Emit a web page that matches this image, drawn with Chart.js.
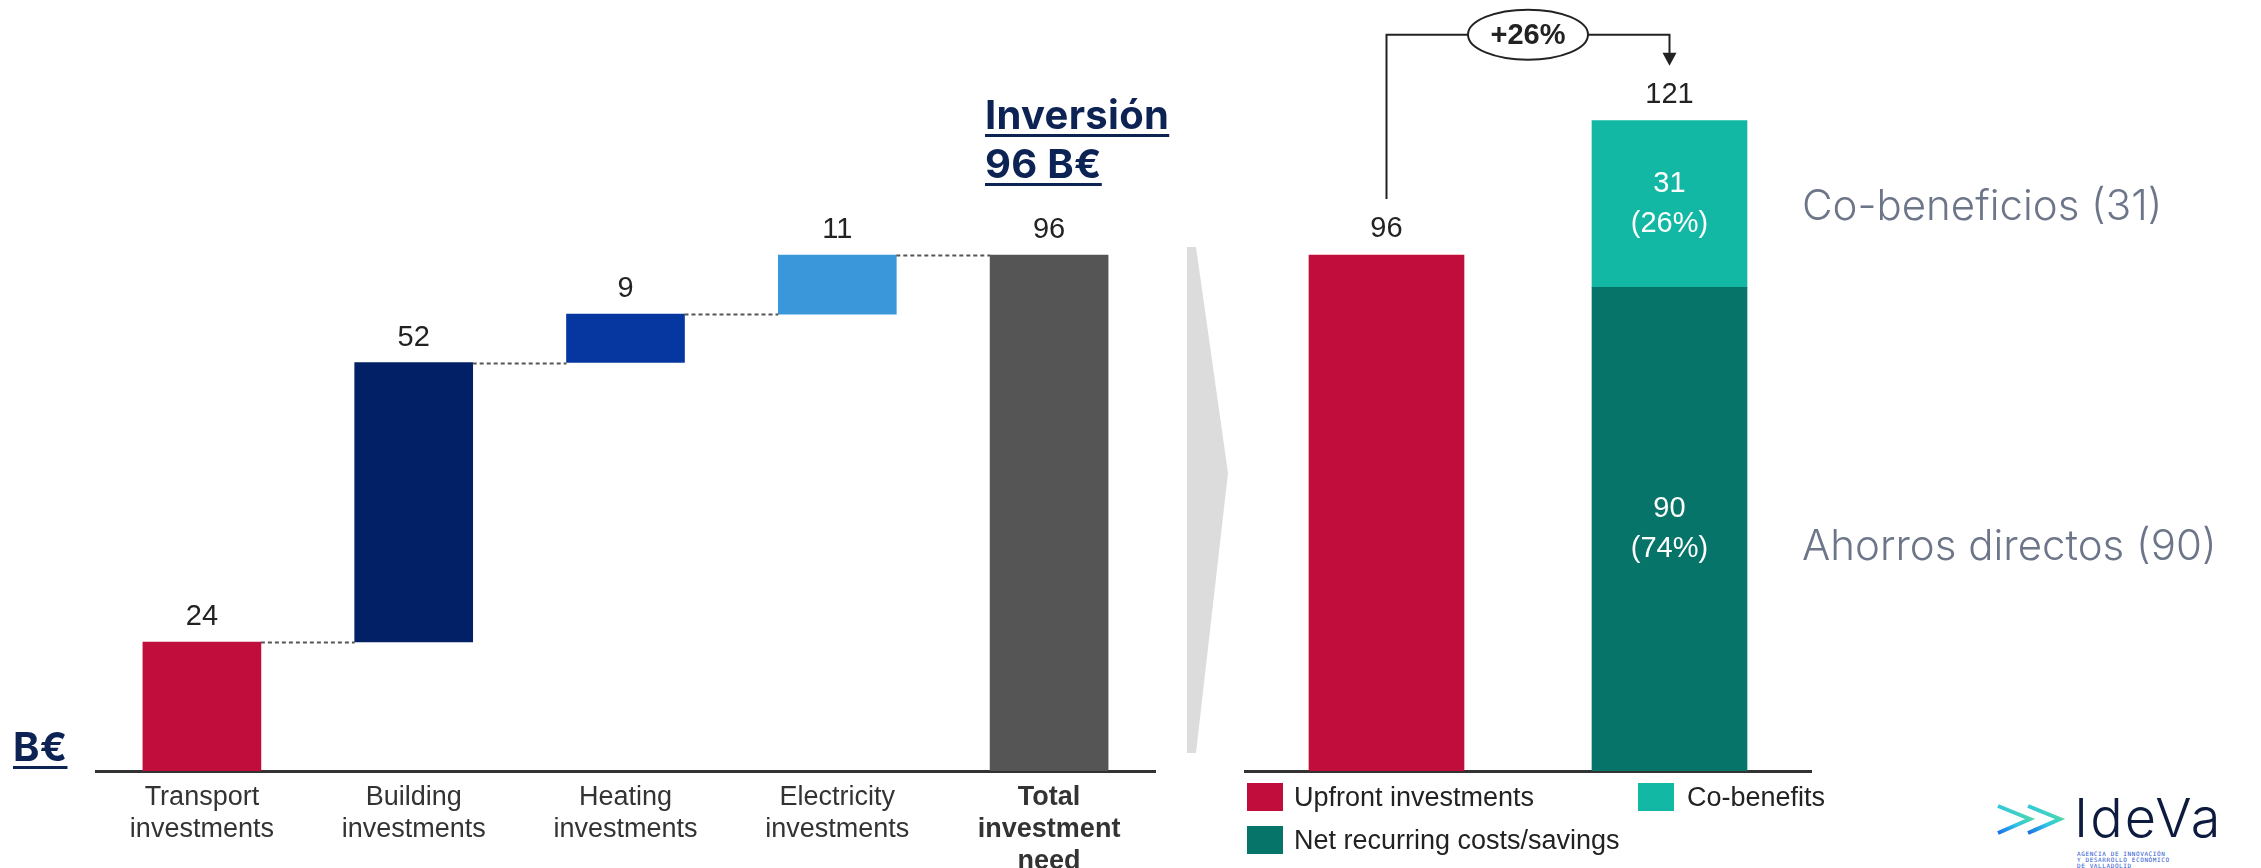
<!DOCTYPE html>
<html>
<head>
<meta charset="utf-8">
<script src="https://cdn.jsdelivr.net/npm/chart.js@4.4.1/dist/chart.umd.min.js"></script>
<style>
  html, body { margin:0; padding:0; background:#fff; }
  body { width:2261px; height:868px; position:relative; overflow:hidden; }
  .abs { position:absolute; }
  #leftWrap { left:0; top:0; width:1180px; height:868px; }
  #rightWrap { left:1180px; top:0; width:680px; height:868px; }
  .title { font-family: Inter, 'Noto Sans', sans-serif; font-weight:700; color:#0d2354;
           font-size:40px; line-height:49px; letter-spacing:0.3px; text-decoration: underline; text-decoration-thickness:3px;
           text-underline-offset:5px; white-space:nowrap; }
  .side { font-family: Inter, 'Noto Sans', sans-serif; font-weight:300; color:#6d7589; font-size:42px;
          line-height:44px; white-space:nowrap; }
  .leg { font-family: 'Liberation Sans', Arial, sans-serif; font-size:27px; color:#222;
         line-height:32px; white-space:nowrap; }
  .sw { position:absolute; }
  .logo { font-family: Inter, 'Noto Sans', sans-serif; font-weight:300; color:#0d1b3e; font-size:54px; line-height:54px; letter-spacing:2px; }
  .logosmall { font-family: 'DejaVu Sans Mono', monospace; font-size:6px; line-height:6px; color:#2a55d0; letter-spacing:0.6px; white-space:nowrap; }
</style>
</head>
<body>
<svg class="abs" style="left:0;top:0" width="2261" height="868">
  <defs>
    <linearGradient id="chev" x1="0" y1="1" x2="1" y2="0">
      <stop offset="0" stop-color="#1a6fe8"/>
      <stop offset="0.45" stop-color="#2fc6e6"/>
      <stop offset="1" stop-color="#5ee08a"/>
    </linearGradient>
  </defs>
  <polygon points="1187,247 1196,247 1228,473 1196,753 1187,753" fill="#dcdcdc"/>
  <polyline points="1998,806 2030,819 1998,833" fill="none" stroke="url(#chev)" stroke-width="4"/>
  <polyline points="2028,806 2060,819 2028,833" fill="none" stroke="url(#chev)" stroke-width="4"/>
</svg>

<div id="leftWrap" class="abs"><canvas id="left"></canvas></div>
<div id="rightWrap" class="abs"><canvas id="right"></canvas></div>

<div class="abs title" style="left:985px;top:90px;">Inversión<br>96 B€</div>
<div class="abs title" style="left:13px;top:722px;">B€</div>

<div class="abs side" style="left:1802px;top:183px;">Co-beneficios (31)</div>
<div class="abs side" style="left:1802px;top:523px;">Ahorros directos (90)</div>

<div id="legend"></div>

<div class="abs logo" style="left:2074px;top:791px;">IdeVa</div>
<div class="abs logosmall" style="left:2077px;top:851px;">AGENCIA DE INNOVACIÓN<br>Y DESARROLLO ECONÓMICO<br>DE VALLADOLID</div>

<script>
// ---------- data ----------
const leftCategories = [['Transport','investments'],['Building','investments'],['Heating','investments'],['Electricity','investments'],['Total','investment','need']];
const leftValues = [24, 52, 9, 11, 96];
const leftIsTotal = [false, false, false, false, true];
const leftColors = ['#c10d3c', '#022065', '#0637a0', '#3a98da', '#555555'];

const rightCategories = ['Upfront', 'Total value'];
const upfrontValues = [96, null];
const netRecurringValues = [null, 90];
const coBenefitValues = [null, 31];
const seriesNames = ['Upfront investments', 'Net recurring costs/savings', 'Co-benefits'];
const seriesColors = ['#c10d3c', '#07746a', '#12b8a3'];

// ---------- left waterfall ----------
const ranges = [];
let run = 0;
leftValues.forEach((v, i) => {
  if (leftIsTotal[i]) { ranges.push([0, v]); run = v; }
  else { ranges.push([run, run + v]); run += v; }
});

const labelFont = "'Liberation Sans', Arial, sans-serif";

const leftPlugin = {
  id: 'leftDeco',
  afterDatasetsDraw(chart) {
    const ctx = chart.ctx;
    const meta = chart.getDatasetMeta(0);
    const y = chart.scales.y;
    ctx.save();
    ctx.strokeStyle = '#555';
    ctx.lineWidth = 2;
    ctx.setLineDash([4, 3]);
    for (let i = 0; i < meta.data.length - 1; i++) {
      const a = meta.data[i], b = meta.data[i + 1];
      const yy = Math.round(y.getPixelForValue(ranges[i][1])) + 0.5;
      ctx.beginPath();
      ctx.moveTo(a.x + a.width / 2, yy);
      ctx.lineTo(b.x - b.width / 2, yy);
      ctx.stroke();
    }
    ctx.setLineDash([]);
    ctx.fillStyle = '#222';
    ctx.font = "29px " + labelFont;
    ctx.textAlign = 'center';
    ctx.textBaseline = 'middle';
    meta.data.forEach((bar, i) => {
      const top = y.getPixelForValue(ranges[i][1]);
      ctx.fillText(String(leftValues[i]), bar.x, top - 25);
    });
    ctx.restore();
  }
};

new Chart(document.getElementById('left'), {
  type: 'bar',
  data: {
    labels: leftCategories,
    datasets: [{
      data: ranges,
      backgroundColor: leftColors,
      borderWidth: 0,
      borderSkipped: false,
      barThickness: 118
    }]
  },
  options: {
    responsive: true,
    maintainAspectRatio: false,
    animation: false,
    layout: { padding: { left: 96, right: 25, top: 233.5, bottom: 0 } },
    plugins: { legend: { display: false }, tooltip: { enabled: false } },
    scales: {
      y: { display: false, min: 0, max: 100 },
      x: {
        grid: { display: false, drawTicks: false },
        border: { display: true, color: '#333', width: 3 },
        afterFit(scale) { scale.height = 97; },
        ticks: {
          padding: 11,
          color: '#333',
          maxRotation: 0,
          autoSkip: false,
          font: (c) => ({ family: labelFont, size: 27, lineHeight: 1.18, weight: leftIsTotal[c.index] ? 'bold' : 'normal' })
        }
      }
    }
  },
  plugins: [leftPlugin]
});

// ---------- right stacked ----------
const totalRight = netRecurringValues[1] + coBenefitValues[1];
const growthPct = Math.round((totalRight - upfrontValues[0]) / upfrontValues[0] * 100);

const rightPlugin = {
  id: 'rightDeco',
  afterDatasetsDraw(chart) {
    const ctx = chart.ctx;
    const y = chart.scales.y;
    const m0 = chart.getDatasetMeta(0), m1 = chart.getDatasetMeta(1);
    const x0 = m0.data[0].x, x1 = m1.data[1].x;
    ctx.save();
    ctx.fillStyle = '#222';
    ctx.textAlign = 'center';
    ctx.textBaseline = 'middle';
    ctx.font = "29px " + labelFont;
    const top0 = y.getPixelForValue(upfrontValues[0]);
    const top1 = y.getPixelForValue(totalRight);
    ctx.fillText(String(upfrontValues[0]), x0, top0 - 26);
    ctx.fillText(String(totalRight), x1, top1 - 26);
    ctx.fillStyle = '#fff';
    const segs = [[0, netRecurringValues[1]], [netRecurringValues[1], totalRight]];
    const vals = [netRecurringValues[1], coBenefitValues[1]];
    segs.forEach((s, i) => {
      const cy = (y.getPixelForValue(s[0]) + y.getPixelForValue(s[1])) / 2;
      ctx.fillText(String(vals[i]), x1, cy - 20);
      ctx.fillText('(' + Math.round(vals[i] / totalRight * 100) + '%)', x1, cy + 20);
    });
    const yLine = top1 - 86;
    const yStart = top0 - 56;
    const yTip = top1 - 55;
    ctx.strokeStyle = '#222';
    ctx.lineWidth = 2;
    ctx.beginPath();
    ctx.moveTo(x0, yStart);
    ctx.lineTo(x0, yLine);
    ctx.lineTo(x1, yLine);
    ctx.lineTo(x1, yTip - 12);
    ctx.stroke();
    ctx.fillStyle = '#222';
    ctx.beginPath();
    ctx.moveTo(x1 - 7, yTip - 13);
    ctx.lineTo(x1 + 7, yTip - 13);
    ctx.lineTo(x1, yTip);
    ctx.closePath();
    ctx.fill();
    const cx = (x0 + x1) / 2;
    ctx.beginPath();
    ctx.ellipse(cx, yLine, 60, 25, 0, 0, Math.PI * 2);
    ctx.fillStyle = '#fff';
    ctx.fill();
    ctx.stroke();
    ctx.fillStyle = '#222';
    ctx.font = "bold 29px " + labelFont;
    ctx.fillText('+' + growthPct + '%', cx, yLine + 1);
    ctx.restore();
  }
};

new Chart(document.getElementById('right'), {
  type: 'bar',
  data: {
    labels: rightCategories,
    datasets: [
      { label: seriesNames[0], data: upfrontValues, backgroundColor: seriesColors[0], barThickness: 155, borderWidth: 0 },
      { label: seriesNames[1], data: netRecurringValues, backgroundColor: seriesColors[1], barThickness: 155, borderWidth: 0 },
      { label: seriesNames[2], data: coBenefitValues, backgroundColor: seriesColors[2], barThickness: 155, borderWidth: 0 }
    ]
  },
  options: {
    responsive: true,
    maintainAspectRatio: false,
    animation: false,
    layout: { padding: { left: 65, right: 49, top: 72.25, bottom: 0 } },
    plugins: { legend: { display: false }, tooltip: { enabled: false } },
    scales: {
      y: { display: false, stacked: true, min: 0, max: 130 },
      x: {
        stacked: true,
        grid: { display: false, drawTicks: false },
        border: { display: true, color: '#333', width: 3 },
        afterFit(scale) { scale.height = 97; },
        ticks: { display: false }
      }
    }
  },
  plugins: [rightPlugin]
});

// ---------- HTML legend built from the series ----------
const legendPos = [
  { sq: [1247, 783], tx: [1294, 781] },
  { sq: [1247, 826], tx: [1294, 824] },
  { sq: [1638, 783], tx: [1687, 781] }
];
const legendEl = document.getElementById('legend');
seriesNames.forEach((n, i) => {
  const p = legendPos[i];
  const s = document.createElement('div');
  s.className = 'sw';
  s.style.cssText = `left:${p.sq[0]}px;top:${p.sq[1]}px;width:36px;height:28px;background:${seriesColors[i]}`;
  legendEl.appendChild(s);
  const t = document.createElement('div');
  t.className = 'abs leg';
  t.style.left = p.tx[0] + 'px';
  t.style.top = p.tx[1] + 'px';
  t.textContent = n;
  legendEl.appendChild(t);
});
</script>
</body>
</html>
